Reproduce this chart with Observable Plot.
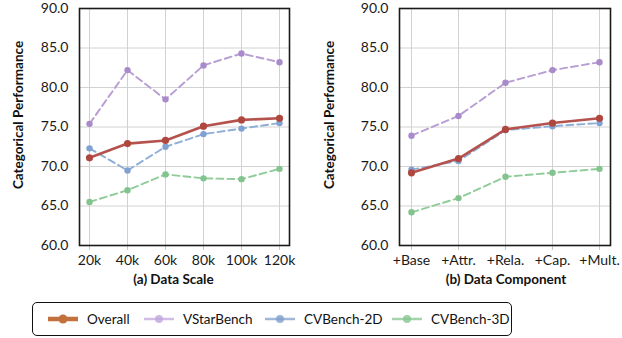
<!DOCTYPE html>
<html><head><meta charset="utf-8">
<script src="https://cdn.jsdelivr.net/npm/d3@7"></script>
<script src="https://cdn.jsdelivr.net/npm/@observablehq/plot@0.6"></script>
<style>
body{margin:0;background:#fff;font-family:Lato,sans-serif;}
#wrap{position:relative;width:622px;height:338px;}
#left{position:absolute;left:0;top:0;}
#right{position:absolute;left:311px;top:0;}
#legend{position:absolute;left:32px;top:302px;width:478px;height:32px;border:1.5px solid #111;border-radius:5px;}
.item{position:absolute;top:0;height:32px;display:flex;align-items:center;font-size:13.5px;color:#111;}
.item svg{margin-right:9px;}
</style></head>
<body><div id="wrap"><div id="left"></div><div id="right"></div><div id="legend"></div></div>
<script>
const seriesNames = ["Overall","VStarBench","CVBench-2D","CVBench-3D"];
const lineColors = ["#b5524d","#b89dd3","#8eaed7","#8fcc99"];
const dotColors = ["#b0473f","#a98bcb","#7fa2d2","#83c38e"];
const legendColors = ["#c2703e","#c0a6dc","#7f9fcb","#86c68f"];

const scaleCats = ["20k","40k","60k","80k","100k","120k"];
const scaleOverall = [71.1, 72.9, 73.3, 75.1, 75.9, 76.1];
const scaleVStar = [75.4, 82.2, 78.5, 82.8, 84.3, 83.2];
const scaleCV2D = [72.3, 69.5, 72.5, 74.1, 74.8, 75.5];
const scaleCV3D = [65.5, 67.0, 69.0, 68.5, 68.4, 69.7];

const compCats = ["+Base","+Attr.","+Rela.","+Cap.","+Mult."];
const compOverall = [69.2, 71.0, 74.7, 75.5, 76.1];
const compVStar = [73.9, 76.4, 80.6, 82.2, 83.2];
const compCV2D = [69.6, 70.7, 74.6, 75.1, 75.5];
const compCV3D = [64.2, 66.0, 68.7, 69.2, 69.7];

const yTicks = [60, 65, 70, 75, 80, 85, 90];
const yLabel = "Categorical Performance";

function table(cats, arrs){
  const rows = [];
  arrs.forEach((vals, s) => vals.forEach((v, i) => rows.push({cat: cats[i], value: v, series: seriesNames[s]})));
  return rows;
}

function panel(cats, arrs, title, ml, mr, titleDx){
  const data = table(cats, arrs);
  const marks = [
    Plot.gridX(cats, {stroke:"#d2d2d2", strokeOpacity:1, strokeWidth:1}),
    Plot.gridY(yTicks, {stroke:"#d2d2d2", strokeOpacity:1, strokeWidth:1}),
    Plot.axisX({tickSize:5, stroke:"#c8c8c8", fill:"#1a1a1a", tickPadding:5, label:null, fontSize:14}),
    Plot.axisY({ticks:yTicks, tickSize:0, tickPadding:11, tickFormat:d3.format(".1f"), label:null, fill:"#1a1a1a", fontSize:14}),
  ];
  for (let s = 3; s >= 0; s--) {
    const sub = data.filter(d => d.series === seriesNames[s]);
    marks.push(Plot.line(sub, {x:"cat", y:"value", stroke:lineColors[s],
      strokeWidth: s === 0 ? 2.6 : 1.9, strokeDasharray: s === 0 ? null : "7,4"}));
    marks.push(Plot.dot(sub, {x:"cat", y:"value", fill:dotColors[s], r: s === 0 ? 3.6 : 3.2}));
  }
  marks.push(Plot.frame({stroke:"#1a1a1a", strokeWidth:1.6}));
  marks.push(Plot.text([title], {frameAnchor:"bottom", dx:titleDx, dy:38, fontWeight:"bold", fontSize:13.5, fill:"#111"}));
  marks.push(Plot.text([yLabel], {frameAnchor:"left", textAnchor:"middle", rotate:-90, dx:-(ml-18), dy:-12, fontWeight:"bold", fontSize:13.5, fill:"#111"}));
  return Plot.plot({
    width:311, height:292,
    marginLeft:ml, marginRight:mr, marginTop:8, marginBottom:47,
    style:{fontFamily:"Lato", fontSize:"14px", background:"#fff"},
    x:{type:"point", domain:cats, padding:0, inset:10},
    y:{domain:[60,90]},
    marks
  });
}

document.getElementById("left").appendChild(panel(scaleCats, [scaleOverall, scaleVStar, scaleCV2D, scaleCV3D], "(a) Data Scale", 79, 22, -11));
document.getElementById("right").appendChild(panel(compCats, [compOverall, compVStar, compCV2D, compCV3D], "(b) Data Component", 88, 12, 1));

const legendX = [15, 111, 232, 359];
const leg = document.getElementById("legend");
seriesNames.forEach((name, i) => {
  const it = document.createElement("div");
  it.className = "item";
  it.style.left = legendX[i] + "px";
  const w = 30, thick = i === 0;
  it.innerHTML = `<svg width="${w}" height="12"><line x1="0" x2="${w}" y1="6" y2="6" stroke="${legendColors[i]}" stroke-width="${thick?4.5:2.5}" stroke-opacity="${thick?1:0.75}"/><circle cx="${w/2}" cy="6" r="${thick?4.5:4}" fill="${legendColors[i]}" fill-opacity="${thick?1:0.8}"/></svg><span>${name}</span>`;
  leg.appendChild(it);
});
</script></body></html>
